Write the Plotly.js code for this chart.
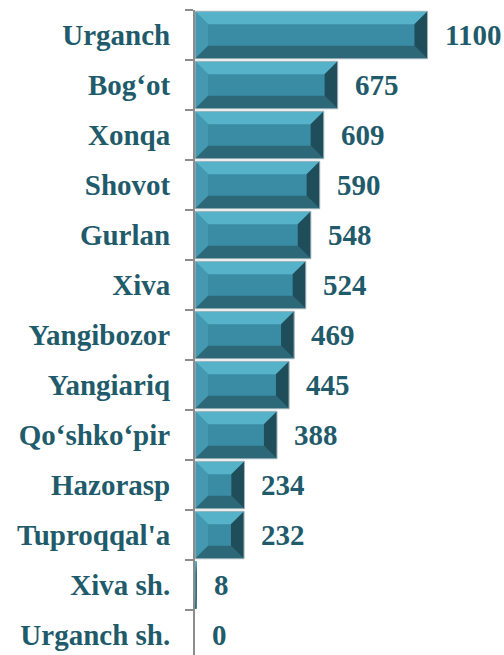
<!DOCTYPE html>
<html>
<head>
<meta charset="utf-8">
<script src="https://cdn.plot.ly/plotly-3.0.1.min.js"></script>
<style>html,body{margin:0;padding:0;overflow:hidden;background:#fff;}</style>
</head>
<body>
<div id="chart" style="width:504px;height:655px;"></div>
<script>
const categories = ["Urganch","Bog\u2018ot","Xonqa","Shovot","Gurlan","Xiva","Yangibozor","Yangiariq","Qo\u2018shko\u2018pir","Hazorasp","Tuproqqal'a","Xiva sh.","Urganch sh."];
const values = [1100,675,609,590,548,524,469,445,388,234,232,8,0];

const idx = categories.map((c,i)=>i);
const textColor = '#1f5b6b';
const font = {family:'Liberation Serif, Times New Roman, serif', size:29, color:textColor, weight:'bold'};

const barHalf = 0.475;
const shapes = [];
values.forEach((v,i)=>{
  if (v <= 0) return;
  const y0 = i - barHalf, y1 = i + barHalf;
  const bx = Math.min(62, v/2), by = 0.26;
  const x0 = 0, x1 = v;
  const mk = (d, col) => shapes.push({type:'path', xref:'x', yref:'y', path:d, fillcolor:col, line:{width:0}, layer:'above'});
  mk(`M${x0},${y0} L${x1},${y0} L${x1-bx},${y0+by} L${x0+bx},${y0+by} Z`, '#55b2c9');
  mk(`M${x0},${y0} L${x0+bx},${y0+by} L${x0+bx},${y1-by} L${x0},${y1} Z`, '#4499b0');
  mk(`M${x0},${y1} L${x0+bx},${y1-by} L${x1-bx},${y1-by} L${x1},${y1} Z`, '#2c6878');
  mk(`M${x1},${y0} L${x1},${y1} L${x1-bx},${y1-by} L${x1-bx},${y0+by} Z`, '#1f4d5a');
  if (v > 50) shapes.push({type:'rect', xref:'x', yref:'y', x0:x0, x1:x1, y0:y0, y1:y1, line:{color:'#a9b8bd', width:1}, layer:'above'});
});

const annotations = values.map((v,i)=>({
  x: v, y: i, xref:'x', yref:'y', text: String(v), showarrow:false,
  xanchor:'left', yanchor:'middle', xshift:15, font: font
}));

const trace = {
  type:'bar', orientation:'h', x: values, y: idx, width: barHalf*2,
  marker:{color:'#3a8ca4', line:{width:0}},
  hoverinfo:'none'
};

const minorVals = [];
for (let k = 0; k <= categories.length; k++) minorVals.push(k - 0.5);

const layout = {
  width:504, height:655,
  margin:{l:195, r:13, t:10, b:0, pad:0},
  paper_bgcolor:'#ffffff', plot_bgcolor:'#ffffff',
  showlegend:false,
  xaxis:{range:[0,1400], visible:false, showgrid:false, zeroline:false},
  yaxis:{
    range:[12.4,-0.5], tickmode:'array', tickvals: idx, ticktext: categories,
    ticks:'', showgrid:false, zeroline:false,
    showline:true, linecolor:'#8c8c8c', linewidth:2,
    tickfont: font, ticklabelstandoff: 17,
    minor:{tickmode:'array', tickvals: minorVals, ticks:'outside', ticklen:8, tickwidth:2, tickcolor:'#8c8c8c', showgrid:false}
  },
  shapes: shapes,
  annotations: annotations
};

Plotly.newPlot('chart', [trace], layout, {displayModeBar:false, staticPlot:true});
</script>
</body>
</html>
